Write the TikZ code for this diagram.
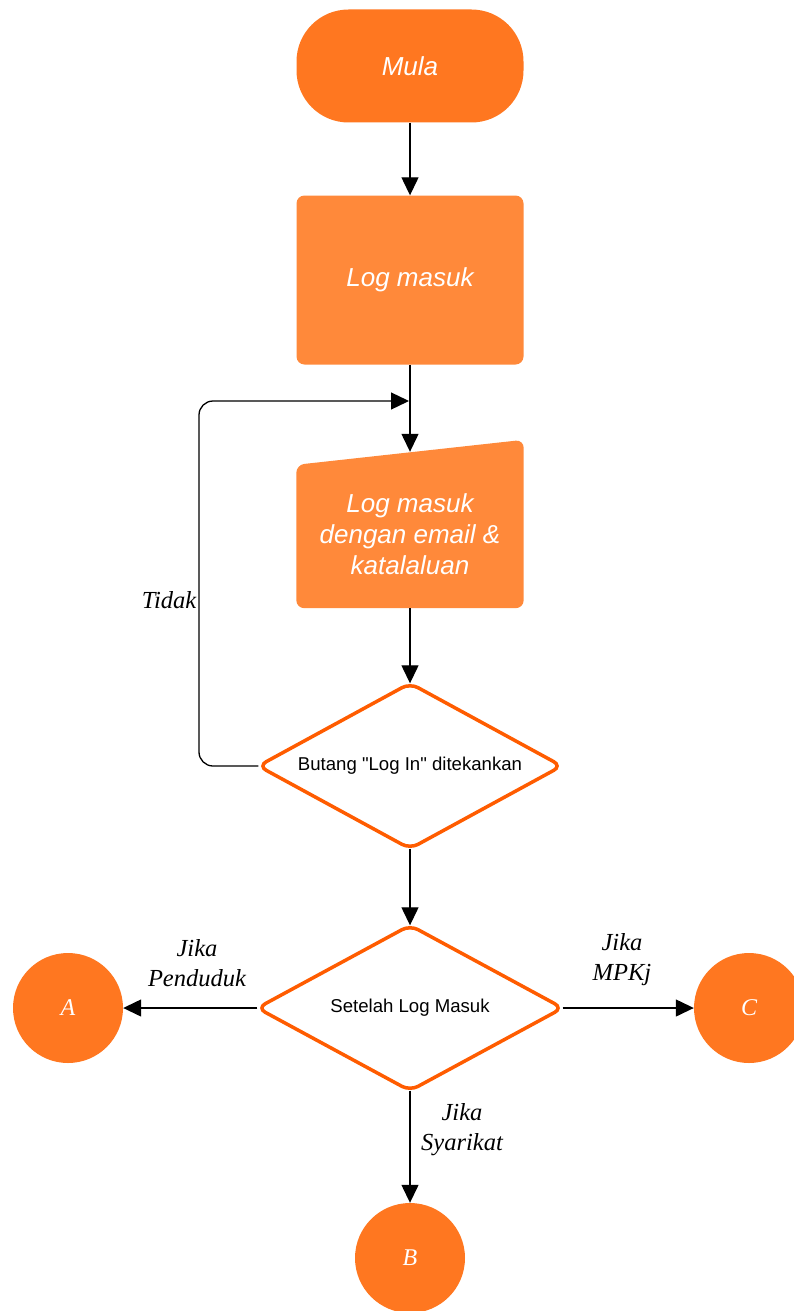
\documentclass[tikz,border=0pt]{standalone}
\usepackage{fontspec}
\setmainfont{Liberation Serif}
\setsansfont{Liberation Sans}
\usetikzlibrary{calc,positioning,arrows.meta,shapes}
\definecolor{oren}{RGB}{255,119,32}
\definecolor{orenmuda}{RGB}{255,137,58}
\definecolor{orentepi}{RGB}{255,92,0}
\tikzset{proc/.style={fill=orenmuda,rectangle,rounded corners=8pt,minimum width=227pt,
text=white,font=\sffamily\itshape\fontsize{26}{31}\selectfont,align=center},
sambung/.style={fill=oren,circle,minimum size=110pt,inner sep=0pt,text=white,
font=\itshape\fontsize{24}{26}\selectfont}}

\begin{document}
\begin{tikzpicture}[x=1pt,y=-1pt,arr/.style={-{Triangle[length=18pt,width=17pt]},line width=1.3pt},
	lbl/.style={font=\itshape\fontsize{24.5}{30}\selectfont,align=center},
	pilih/.style={rectangle,minimum width=303pt,minimum height=165pt,inner sep=0pt,
		font=\sffamily\fontsize{18.6}{20}\selectfont}]
		\useasboundingbox (0,0) rectangle (794,1311);

		\node[proc,fill=oren,rounded corners=52pt,minimum height=113pt] (mula) at (410,66) {Mula};
		\node[proc,minimum height=169pt] (log) at (410,280) {Log masuk};
		\node[minimum width=227pt,minimum height=156pt,inner sep=0pt] (input) at (410,530) {};
		\fill[orenmuda,rounded corners=8pt] (input.south west) -- (input.south east)
			-- ([yshift=12pt]input.north east) -- ([yshift=-13pt]input.north west) -- cycle;
		\node[text=white,align=center,font=\sffamily\itshape\fontsize{26}{31}\selectfont]
			(inputteks) at ([yshift=-4pt]input.center) {Log masuk\\dengan email \&\\katalaluan};

		\node[pilih] (d1) at (410,766) {Butang \textquotedbl Log In\textquotedbl{} ditekankan};
		\draw[orentepi,line width=3.5pt,rounded corners=9pt] (d1.north) -- (d1.east)
			-- (d1.south) -- (d1.west) -- cycle;
		\node[pilih,minimum width=305pt] (d2) at (410,1008) {Setelah Log Masuk};
		\draw[orentepi,line width=3.5pt,rounded corners=9pt] (d2.north) -- (d2.east)
			-- (d2.south) -- (d2.west) -- cycle;

		\node[sambung] (A) at (68,1008) {A};
		\node[sambung] (B) at (410,1258) {B};
		\node[sambung] (C) at (749,1008) {C};

		\coordinate (join) at (410,401);
		\coordinate (bend) at (199,401);

		\draw[arr] (mula) -- (log);
		\draw[arr] (log) -- (input);
		\draw[arr] (input) -- (d1.north);
		\draw[arr] (d1.south) -- (d2.north);
		\draw[arr,rounded corners=14pt] (d1.west) -| (bend) -- ([xshift=-1pt]join);
		\draw[arr] (d2.west) -- (A);
		\draw[arr] (d2.east) -- (C);
		\draw[arr] (d2.south) -- (B);

		\node[lbl] (tidak) at (169,600) {Tidak};
		\node[lbl] (jp) at (197,963) {Jika\\Penduduk};
		\node[lbl] (jm) at (622,960) {Jika\\MPKj};
		\node[lbl] (js) at (462,1130) {Jika\\Syarikat};
	\end{tikzpicture}
\end{document}
